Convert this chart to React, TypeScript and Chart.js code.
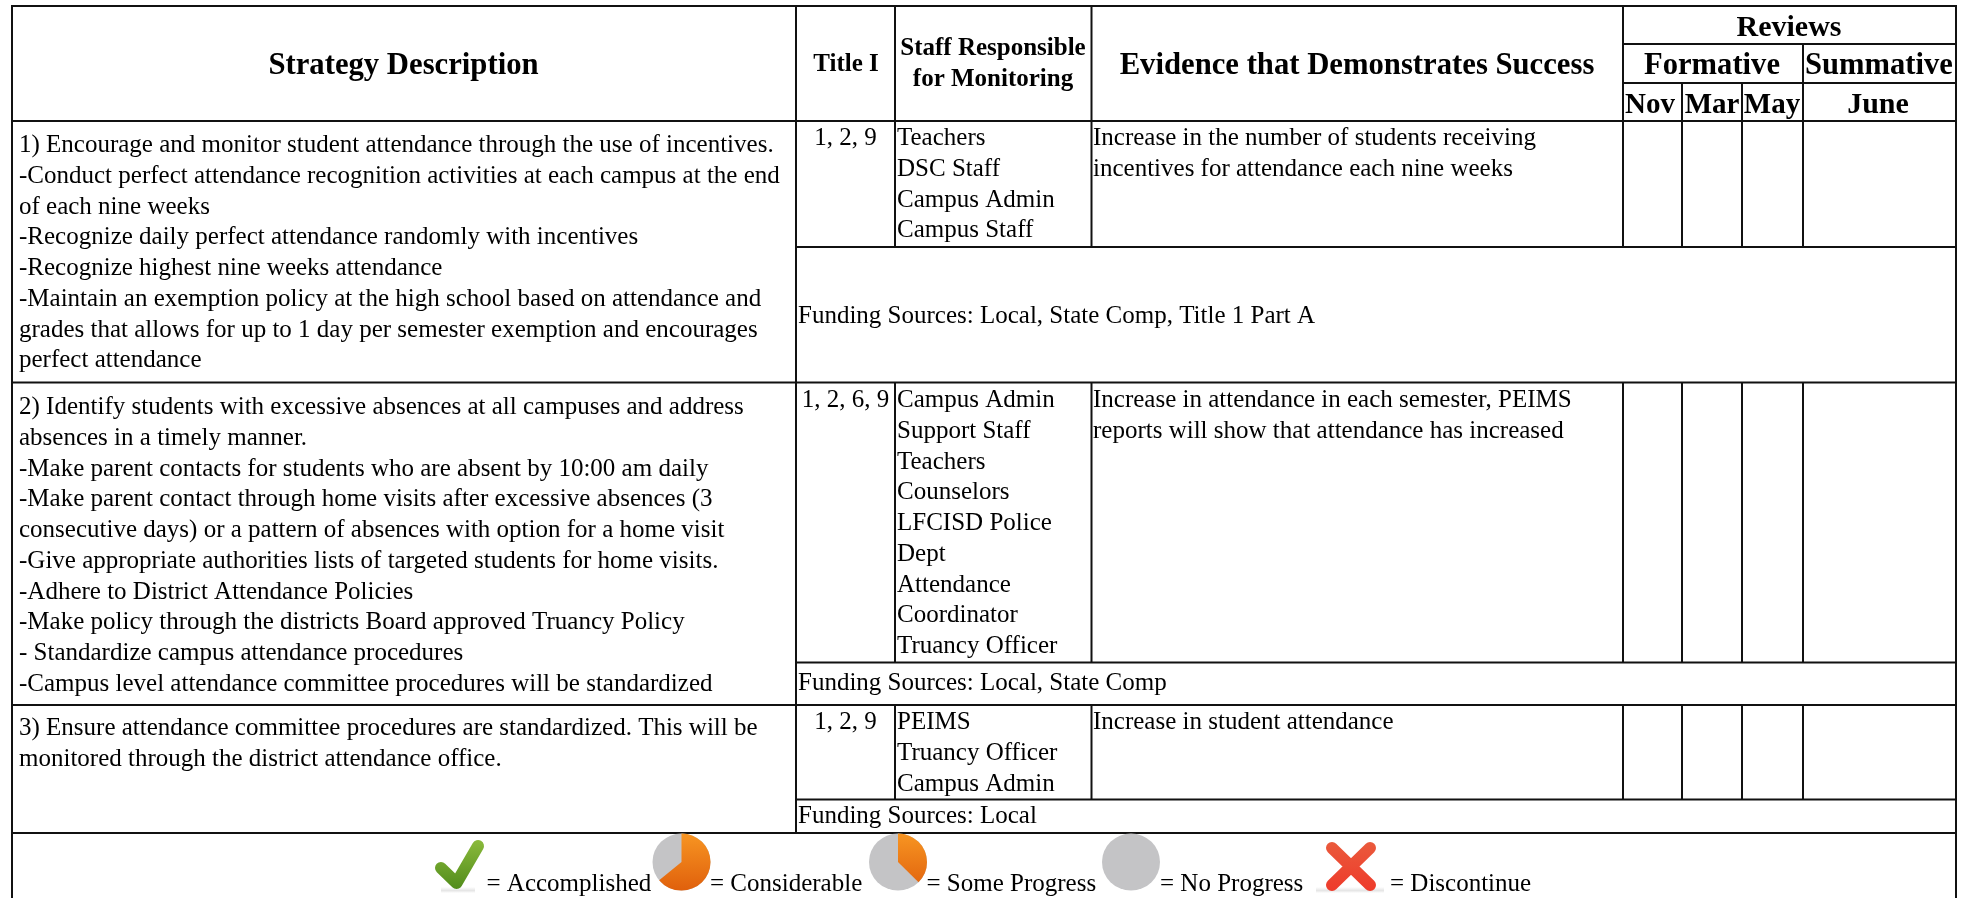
import React, { useEffect, useRef } from "react";
import { Chart, registerables } from "chart.js";
Chart.register(...registerables);

const W = 1971, H = 898;
const FONT = '"Liberation Serif"';

// Column and row rules
const colX = [12, 796, 895, 1091.5, 1623, 1682, 1742, 1803, 1956];
const rowY = [6, 121, 247, 382.5, 662.5, 705, 799.5, 833];

const headerCells = [
  { text: "Strategy Description", cx: 403.5, y: 74, size: 30.7 },
  { text: "Title I", cx: 846, y: 71, size: 25 },
  { text: "Staff Responsible", cx: 993, y: 55, size: 25 },
  { text: "for Monitoring", cx: 993, y: 86, size: 25 },
  { text: "Evidence that Demonstrates Success", cx: 1357, y: 74, size: 30.7 },
  { text: "Reviews", cx: 1789, y: 36, size: 30 },
  { text: "Formative", cx: 1712, y: 74, size: 30.6 },
  { text: "Summative", cx: 1879, y: 74, size: 30.6 },
  { text: "Nov", cx: 1650, y: 113, size: 29 },
  { text: "Mar", cx: 1712, y: 113, size: 29 },
  { text: "May", cx: 1772, y: 113, size: 29 },
  { text: "June", cx: 1878, y: 113, size: 30 },
];

const strategyLines = [
  { y: 152, lines: [
    "1) Encourage and monitor student attendance through the use of incentives.",
    "-Conduct perfect attendance recognition activities at each campus at the end",
    "of each nine weeks",
    "-Recognize daily perfect attendance randomly with incentives",
    "-Recognize highest nine weeks attendance",
    "-Maintain an exemption policy at the high school based on attendance and",
    "grades that allows for up to 1 day per semester exemption and encourages",
    "perfect attendance",
  ]},
  { y: 414, lines: [
    "2) Identify students with excessive absences at all campuses and address",
    "absences in a timely manner.",
    "-Make parent contacts for students who are absent by 10:00 am daily",
    "-Make parent contact through home visits after excessive absences (3",
    "consecutive days) or a pattern of absences with option for a home visit",
    "-Give appropriate authorities lists of targeted students for home visits.",
    "-Adhere to District Attendance Policies",
    "-Make policy through the districts Board approved Truancy Policy",
    "- Standardize campus attendance procedures",
    "-Campus level attendance committee procedures will be standardized",
  ]},
  { y: 735, lines: [
    "3) Ensure attendance committee procedures are standardized. This will be",
    "monitored through the district attendance office.",
  ]},
];

const titleCodes = [
  { text: "1, 2, 9", y: 145 },
  { text: "1, 2, 6, 9", y: 407 },
  { text: "1, 2, 9", y: 729 },
];

const staffLines = [
  { y: 145, lines: ["Teachers", "DSC Staff", "Campus Admin", "Campus Staff"] },
  { y: 407, lines: ["Campus Admin", "Support Staff", "Teachers", "Counselors", "LFCISD Police", "Dept", "Attendance", "Coordinator", "Truancy Officer"] },
  { y: 729, lines: ["PEIMS", "Truancy Officer", "Campus Admin"] },
];

const evidenceLines = [
  { y: 145, lines: ["Increase in the number of students receiving", "incentives for attendance each nine weeks"] },
  { y: 407, lines: ["Increase in attendance in each semester, PEIMS", "reports will show that attendance has increased"] },
  { y: 729, lines: ["Increase in student attendance"] },
];

const fundingLines = [
  { text: "Funding Sources: Local, State Comp, Title 1 Part A", y: 322.5 },
  { text: "Funding Sources: Local, State Comp", y: 690 },
  { text: "Funding Sources: Local", y: 823 },
];

const legendLabels = [
  { text: "= Accomplished", x: 486.5 },
  { text: "= Considerable", x: 710 },
  { text: "= Some Progress", x: 926.5 },
  { text: "= No Progress", x: 1160 },
  { text: "= Discontinue", x: 1390 },
];

const pieFractions = [
  { cx: 681.5, share: 0.64 },
  { cx: 898, share: 0.375 },
  { cx: 1131, share: 0 },
];

const tablePlugin = {
  id: "table",
  afterDraw(chart: any) {
    const c = chart.ctx as CanvasRenderingContext2D;
    const LH = 30.75;
    c.save();
    c.fillStyle = "#fff";
    c.fillRect(0, 0, W, H);

    // rules
    c.strokeStyle = "#111";
    const line = (x1: number, y1: number, x2: number, y2: number, w = 2) => {
      c.lineWidth = w;
      c.beginPath();
      c.moveTo(x1, y1);
      c.lineTo(x2, y2);
      c.stroke();
    };
    const [L, cA, cB, cC, cD, cE, cF, cG, R] = colX;
    const [r0, r1, r1f, r2, r2f, r3, r3f, r4] = rowY;
    line(L - 1, r0, R + 1, r0);
    line(L, r0, L, H);
    line(R, r0, R, H);
    line(cA, r0, cA, r4);
    for (const x of [cB, cC, cD]) {
      line(x, r0, x, r1f);
      line(x, r2, x, r2f);
      line(x, r3, x, r3f);
    }
    line(cG, 44, cG, r1f);
    line(cG, r2, cG, r2f);
    line(cG, r3, cG, r3f);
    for (const x of [cE, cF]) {
      line(x, 83, x, r1f);
      line(x, r2, x, r2f);
      line(x, r3, x, r3f);
    }
    line(cD, 44, R, 44);
    line(cD, 83, R, 83);
    line(L, r1, R, r1);
    line(cA, r1f, R, r1f);
    line(L, r2, R, r2);
    line(cA, r2f, R, r2f);
    line(L, r3, R, r3);
    line(cA, r3f, R, r3f);
    line(L, r4, R, r4);

    // text
    c.fillStyle = "#000";
    c.textBaseline = "alphabetic";
    c.textAlign = "center";
    for (const h of headerCells) {
      c.font = `bold ${h.size}px ${FONT}`;
      c.fillText(h.text, h.cx, h.y);
    }
    c.font = `25px ${FONT}`;
    for (const t of titleCodes) c.fillText(t.text, 845.5, t.y);
    c.textAlign = "left";
    const block = (x: number, blocks: { y: number; lines: string[] }[]) => {
      for (const b of blocks) b.lines.forEach((s, i) => c.fillText(s, x, b.y + i * LH));
    };
    block(19, strategyLines);
    block(897, staffLines);
    block(1093, evidenceLines);
    for (const f of fundingLines) c.fillText(f.text, 798, f.y);
    for (const l of legendLabels) c.fillText(l.text, l.x, 891);

    // legend: pies
    const CY = 862, RX = 29, RY = 28.5;
    for (const p of pieFractions) {
      c.fillStyle = "#c4c4c6";
      c.beginPath();
      c.ellipse(p.cx, CY, RX, RY, 0, 0, Math.PI * 2);
      c.fill();
      if (p.share > 0) {
        const g = c.createLinearGradient(0, CY - RY, 0, CY + RY);
        g.addColorStop(0, "#f79522");
        g.addColorStop(1, "#e0600c");
        c.fillStyle = g;
        const a0 = -Math.PI / 2;
        c.beginPath();
        c.moveTo(p.cx, CY);
        c.ellipse(p.cx, CY, RX, RY, 0, a0, a0 + p.share * Math.PI * 2);
        c.closePath();
        c.fill();
      }
    }

    // legend: soft shadows under check and cross
    const shadow = (x0: number, x1: number) => {
      const g = c.createLinearGradient(0, 887, 0, 893);
      g.addColorStop(0, "rgba(170,170,170,0)");
      g.addColorStop(0.6, "rgba(170,170,170,0.3)");
      g.addColorStop(1, "rgba(170,170,170,0)");
      c.fillStyle = g;
      c.fillRect(x0, 887, x1 - x0, 6);
    };
    shadow(441, 475);
    shadow(1316, 1384);

    // legend: check
    const gc = c.createLinearGradient(0, 839, 0, 891);
    gc.addColorStop(0, "#8cbb3c");
    gc.addColorStop(1, "#4f8a1a");
    c.strokeStyle = gc;
    c.lineWidth = 12;
    c.lineCap = "round";
    c.lineJoin = "round";
    c.beginPath();
    c.moveTo(441, 868);
    c.lineTo(456.5, 883);
    c.lineTo(478, 846);
    c.stroke();

    // legend: cross
    const gx = c.createLinearGradient(0, 842, 0, 890);
    gx.addColorStop(0, "#ea5a3c");
    gx.addColorStop(1, "#ee3b2b");
    c.strokeStyle = gx;
    c.lineWidth = 12;
    c.lineCap = "round";
    c.beginPath();
    c.moveTo(1332, 848);
    c.lineTo(1370, 885);
    c.moveTo(1370, 848);
    c.lineTo(1332, 885);
    c.stroke();
    c.restore();
  },
};

export default function App() {
  const ref = useRef<HTMLCanvasElement>(null);
  useEffect(() => {
    const chart = new Chart(ref.current!, {
      type: "scatter",
      data: { datasets: [] },
      options: {
        animation: false,
        responsive: false,
        layout: { padding: 0 },
        plugins: { legend: { display: false }, tooltip: { enabled: false } },
        scales: { x: { display: false }, y: { display: false } },
      },
      plugins: [tablePlugin],
    } as any);
    return () => chart.destroy();
  }, []);
  return <canvas ref={ref} width={W} height={H} style={{ position: "absolute", left: 0, top: 0, display: "block" }} />;
}
